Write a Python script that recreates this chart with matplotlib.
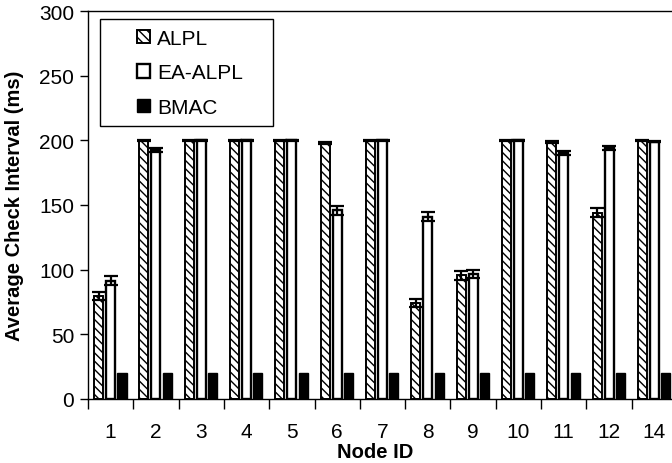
import matplotlib
matplotlib.use("Agg")
import matplotlib.pyplot as plt
import numpy as np
from matplotlib.patches import Rectangle

plt.rcParams['font.family'] = ['Liberation Sans', 'DejaVu Sans']
plt.rcParams['hatch.linewidth'] = 1.0

nodes = ["1", "2", "3", "4", "5", "6", "7", "8", "9", "10", "11", "12", "14"]
alpl = [79.5, 200, 200, 200, 200, 198, 200, 74, 95.5, 200, 198.5, 144, 200]
alpl_err = [3, 0.6, 0.6, 0.6, 0.6, 0.6, 0.6, 3, 3.3, 0.6, 0.6, 3.5, 0.6]
ea_alpl = [91.5, 192.3, 200, 200, 200, 145.8, 200, 141, 96.7, 200, 190, 194.4, 199]
ea_err = [3.4, 1.5, 0.6, 0.6, 0.6, 3.5, 0.6, 3.5, 3.3, 0.6, 1.4, 1.5, 0.6]
bmac = [20] * 13

fig = plt.figure(figsize=(6.72, 4.64), dpi=100)
ax = fig.add_axes([88/672, 1-400/464, (677-88)/672, (400-12)/464])

x = np.arange(len(nodes))
w = 0.2
ekw = dict(elinewidth=1.6, capsize=5.2, capthick=1.6, ecolor='black')
ax.bar(x - 0.265, alpl, w, color='white', edgecolor='black', hatch='\\\\\\\\',
       linewidth=1.4, yerr=alpl_err, error_kw=ekw, label='ALPL')
ax.bar(x, ea_alpl, w, color='white', edgecolor='black', linewidth=1.7,
       yerr=ea_err, error_kw=ekw, label='EA-ALPL')
ax.bar(x + 0.25, bmac, w, color='black', edgecolor='black', linewidth=1.0,
       label='BMAC')

ax.set_xlim(-0.5, len(nodes) - 0.5)
ax.set_ylim(0, 300)
ax.set_yticks(np.arange(0, 301, 50))
ax.tick_params(axis='y', direction='out', length=6, width=1, labelsize=15, pad=4)

ax.set_xticks(np.arange(-0.5, len(nodes), 1.0))
ax.set_xticklabels([])
ax.set_xticks(x, minor=True)
ax.set_xticklabels(nodes, minor=True)
ax.tick_params(axis='x', which='major', direction='out', length=7, width=1)
ax.tick_params(axis='x', which='minor', length=0, labelsize=15, pad=16.5)

for s in ['left', 'bottom', 'top']:
    ax.spines[s].set_linewidth(1.0)
ax.spines['right'].set_visible(False)

ax.set_ylabel('Average Check Interval (ms)', fontsize=14.5, fontweight='bold')
ax.yaxis.set_label_coords(-(88-24)/589, 0.5)
ax.set_xlabel('Node ID', fontsize=14.5, fontweight='bold')
ax.xaxis.set_label_coords((375-88)/589, -(443.5-400)/388)

leg = ax.legend(loc='upper left', bbox_to_anchor=((137-88)/589, 1-(30-12)/388),
                frameon=False, fontsize=15, handlelength=0.63, handleheight=0.63,
                handletextpad=0.34, labelspacing=0.74, borderpad=0, borderaxespad=0)
rect = Rectangle((100/672, 1-127/464), (273-100)/672, (127-20)/464,
                 transform=fig.transFigure, facecolor='none', edgecolor='black',
                 linewidth=1.0, zorder=10)
fig.patches.append(rect)

fig.savefig('out.png', dpi=100)
